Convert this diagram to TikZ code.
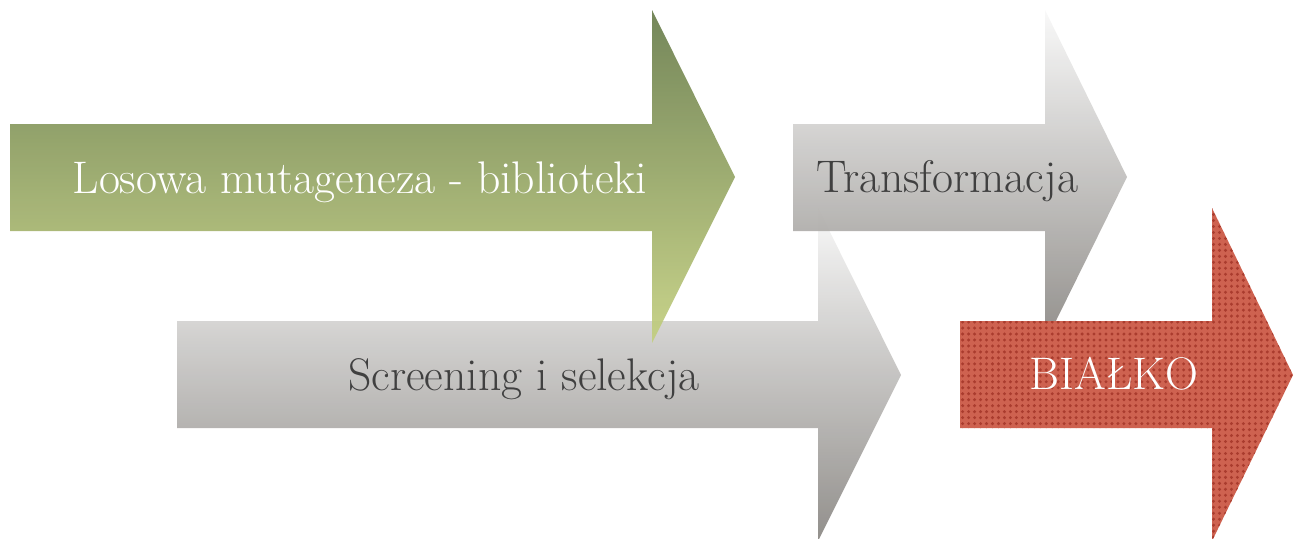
\documentclass[tikz,border=0pt]{standalone}
\usepackage{tikz}
\usetikzlibrary{patterns}

\definecolor{olivetop}{RGB}{104,124,76}
\definecolor{olivebot}{RGB}{196,208,128}
\definecolor{graytop}{RGB}{248,248,248}
\definecolor{graybot}{RGB}{134,131,127}
\definecolor{brickred}{RGB}{206,98,80}
\definecolor{brickdots}{RGB}{170,60,46}
\definecolor{darktext}{RGB}{64,64,64}

\pgfdeclarepatternformonly{bigdots}{\pgfqpoint{-1pt}{-1pt}}{\pgfqpoint{2pt}{2pt}}{\pgfqpoint{3.4pt}{3.4pt}}%
  {\pgfpathcircle{\pgfqpoint{0.5pt}{0.5pt}}{0.95pt}\pgfusepath{fill}}

\begin{document}
\begin{tikzpicture}[x=0.02cm, y=-0.02cm,
    label/.style={anchor=base, inner sep=0pt, font=\fontsize{26}{30}\selectfont},
    greenarrow/.style={top color=olivetop, bottom color=olivebot, fill opacity=0.92},
    grayarrow/.style={top color=graytop, bottom color=graybot, fill opacity=0.9},
    redarrow/.style={fill=brickred, postaction={pattern=bigdots, pattern color=brickdots}}
]
\useasboundingbox (0,0) rectangle (1295,538);

% Screening arrow
\shade[grayarrow] (177,321) -- (818,321) -- (818,208) -- (901,375) -- (818,541)
    -- (818,428) -- (177,428) -- cycle;

% Mutagenesis arrow
\shade[greenarrow] (10,124) -- (652,124) -- (652,10) -- (735,177) -- (652,343)
    -- (652,231) -- (10,231) -- cycle;

% Transformation arrow
\shade[grayarrow] (793,124) -- (1045,124) -- (1045,10) -- (1127,177) -- (1045,343)
    -- (1045,231) -- (793,231) -- cycle;

% Protein arrow
\path[redarrow] (960,321) -- (1212,321) -- (1212,208) -- (1293,375) -- (1212,541)
    -- (1212,428) -- (960,428) -- cycle;

% Labels
\node[label, text=white] (mutagen) at (360,193) {Losowa mutageneza - biblioteki};
\node[label, text=darktext] (transform) at (947,192) {Transformacja};
\node[label, text=darktext] (screen) at (524,390) {Screening i selekcja};
\node[label, text=white] (protein) at (1114,389) {BIAŁKO};
\end{tikzpicture}
\end{document}
